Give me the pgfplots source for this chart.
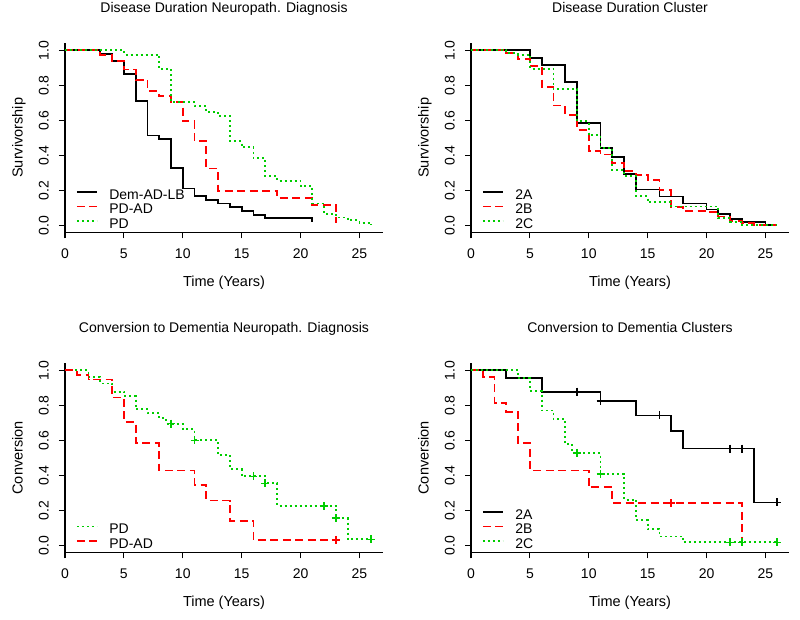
\documentclass[border=0pt]{standalone}
\usepackage{fontspec}
\setmainfont{Liberation Sans}
\usepackage{pgfplots}
\pgfplotsset{compat=1.18}
\definecolor{Rgreen}{RGB}{0,205,0}
\definecolor{Rred}{RGB}{255,0,0}
\pgfplotsset{
 rpanel/.style={
  scale only axis, width=318pt, height=189pt,
  xmin=0, xmax=27, ymin=-0.04, ymax=1.04,
  axis x line*=bottom, axis y line*=left,
  axis line style={line width=1.2pt, black},
  every tick/.style={line width=1.2pt, black},
  tick align=outside, major tick length=6pt,
  xtick={0,5,10,15,20,25}, ytick={0,0.2,0.4,0.6,0.8,1},
  /pgf/number format/assume math mode=true,
  tick label style={font=\fontsize{14}{16}\selectfont},
  xticklabel shift=6.7pt, yticklabel shift=6.7pt,
  yticklabel style={rotate=90, anchor=south},
  yticklabel={\pgfmathprintnumber[fixed, fixed zerofill, precision=1]{\tick}},
  xlabel={Time (Years)},
  label style={font=\fontsize{14.5}{16}\selectfont},
  xlabel style={at={(axis description cs:0.5,-0.286)}, anchor=base},
  ylabel style={at={(axis description cs:-0.133,0.5)}, anchor=base},
  title style={at={(axis description cs:0.5,1.13)}, anchor=base, font=\fontsize{14}{16}\selectfont},
  legend style={draw=none, fill=none, inner sep=0pt, outer sep=0pt, row sep=0pt,
    at={(axis description cs:0.0346,0.0)}, anchor=south west,
    font=\fontsize{14}{16}\selectfont,
    nodes={inner sep=0pt, text height=10pt, text depth=4.2pt},
    /tikz/every odd column/.append style={column sep=11.5pt}},
  legend cell align=left,
  legend image code/.code={\draw[##1] (0pt,4.5pt) -- (20pt,4.5pt);},
 },
 km/.style={const plot, line width=1.8pt, no markers},
 sblack/.style={km, black},
 sred/.style={km, Rred, dash pattern=on 8pt off 4.5pt},
 sgreen/.style={km, Rgreen, dash pattern=on 2pt off 3pt},
 cens/.style={only marks, mark=+, mark size=4pt, line width=1.6pt, forget plot},
}
\begin{document}
\begin{tikzpicture}
\path[use as bounding box] (0,0) rectangle (800pt,619pt);
% Panel 1
\begin{axis}[rpanel, at={(65pt,386.7pt)}, anchor=south west,
  title={Disease Duration Neuropath. Diagnosis}, ylabel={Survivorship}]
\addplot[sblack] coordinates {(0,1) (3,0.98) (4,0.94) (5,0.865) (6,0.71) (7,0.513) (8,0.492) (9,0.328) (10,0.21) (11,0.166) (12,0.145) (13,0.125) (14,0.103) (15,0.082) (16,0.061) (17,0.04) (21,0.04) (21,0.02)};
\addlegendentry{Dem-AD-LB}
\addplot[sred] coordinates {(0,1) (3,0.975) (4,0.94) (5,0.89) (6,0.832) (7,0.766) (8,0.737) (9,0.705) (10,0.594) (11,0.48) (12,0.324) (13,0.198) (18,0.156) (21,0.116) (23,0.012)};
\addlegendentry{PD-AD}
\addplot[sgreen] coordinates {(0,1) (5,0.975) (8,0.893) (9,0.705) (11,0.68) (12,0.648) (13,0.623) (14,0.48) (15,0.446) (16,0.385) (17,0.282) (18,0.255) (20,0.223) (21,0.124) (22,0.065) (23,0.045) (24,0.03) (25,0.015) (26,0.005)};
\addlegendentry{PD}
\end{axis}
% Panel 2
\begin{axis}[rpanel, at={(471pt,386.7pt)}, anchor=south west,
  title={Disease Duration Cluster}, ylabel={Survivorship}]
\addplot[sblack] coordinates {(0,1) (5,0.958) (6,0.914) (8,0.817) (9,0.585) (11,0.442) (12,0.39) (13,0.295) (14,0.204) (16,0.165) (18,0.125) (20,0.09) (21,0.063) (22,0.035) (23,0.017) (25,0.003) (26,0.003)};
\addlegendentry{2A}
\addplot[sred] coordinates {(0,1) (3,0.985) (4,0.95) (5,0.91) (6,0.79) (7,0.684) (8,0.632) (9,0.543) (10,0.423) (11,0.404) (12,0.356) (13,0.309) (14,0.286) (15,0.257) (16,0.202) (17,0.103) (18,0.08) (20,0.075) (21,0.05) (22,0.025) (23,0.012) (24,0.003) (26,0.003)};
\addlegendentry{2B}
\addplot[sgreen] coordinates {(0,1) (3,0.985) (4,0.975) (5,0.895) (7,0.777) (9,0.594) (10,0.514) (11,0.44) (12,0.314) (13,0.28) (14,0.166) (15,0.131) (17,0.107) (21,0.04) (22,0.02) (23,0.0) (26,0.0)};
\addlegendentry{2C}
\end{axis}
% Panel 3
\begin{axis}[rpanel, at={(65pt,66.7pt)}, anchor=south west,
  title={Conversion to Dementia Neuropath. Diagnosis}, ylabel={Conversion}]
\addplot[sgreen] coordinates {(0,1) (2,0.962) (3,0.925) (4,0.878) (5,0.853) (6,0.778) (7,0.755) (8,0.726) (8.6,0.695) (10,0.665) (11,0.6) (13,0.514) (14,0.436) (15,0.394) (17,0.354) (18,0.226) (23,0.155) (24,0.034) (26,0.034)};
\addlegendentry{PD}
\addplot[sred] coordinates {(0,1) (1,0.975) (2,0.947) (4,0.845) (5,0.705) (6,0.585) (8,0.428) (11,0.346) (12,0.256) (14,0.14) (16,0.031) (23,0.031)};
\addlegendentry{PD-AD}
\addplot[cens, Rgreen] coordinates {(9,0.695) (11,0.6) (16,0.394) (17,0.354) (22,0.226) (23,0.155) (26,0.034)};
\addplot[cens, Rred] coordinates {(23,0.031)};
\end{axis}
% Panel 4
\begin{axis}[rpanel, at={(471pt,66.7pt)}, anchor=south west,
  title={Conversion to Dementia Clusters}, ylabel={Conversion}]
\addplot[sblack] coordinates {(0,1) (3,0.956) (6,0.878) (11,0.824) (14,0.742) (17,0.652) (18,0.553) (24,0.245) (26,0.245)};
\addlegendentry{2A}
\addplot[sred] coordinates {(0,1) (1,0.962) (2,0.815) (3,0.763) (4,0.585) (5,0.428) (10,0.331) (12,0.241) (23,0.241) (23,0.0)};
\addlegendentry{2B}
\addplot[sgreen] coordinates {(0,1) (4,0.955) (5,0.88) (6,0.77) (7,0.72) (8,0.579) (8.6,0.528) (11,0.407) (13,0.26) (14,0.145) (15,0.094) (16,0.05) (18,0.017) (26,0.017)};
\addlegendentry{2C}
\addplot[cens, black] coordinates {(9,0.878) (11,0.824) (16,0.742) (22,0.553) (23,0.553) (26,0.245)};
\addplot[cens, Rred] coordinates {(17,0.241)};
\addplot[cens, Rgreen] coordinates {(9,0.528) (11,0.407) (22,0.017) (23,0.017) (26,0.017)};
\end{axis}
\end{tikzpicture}
\end{document}
